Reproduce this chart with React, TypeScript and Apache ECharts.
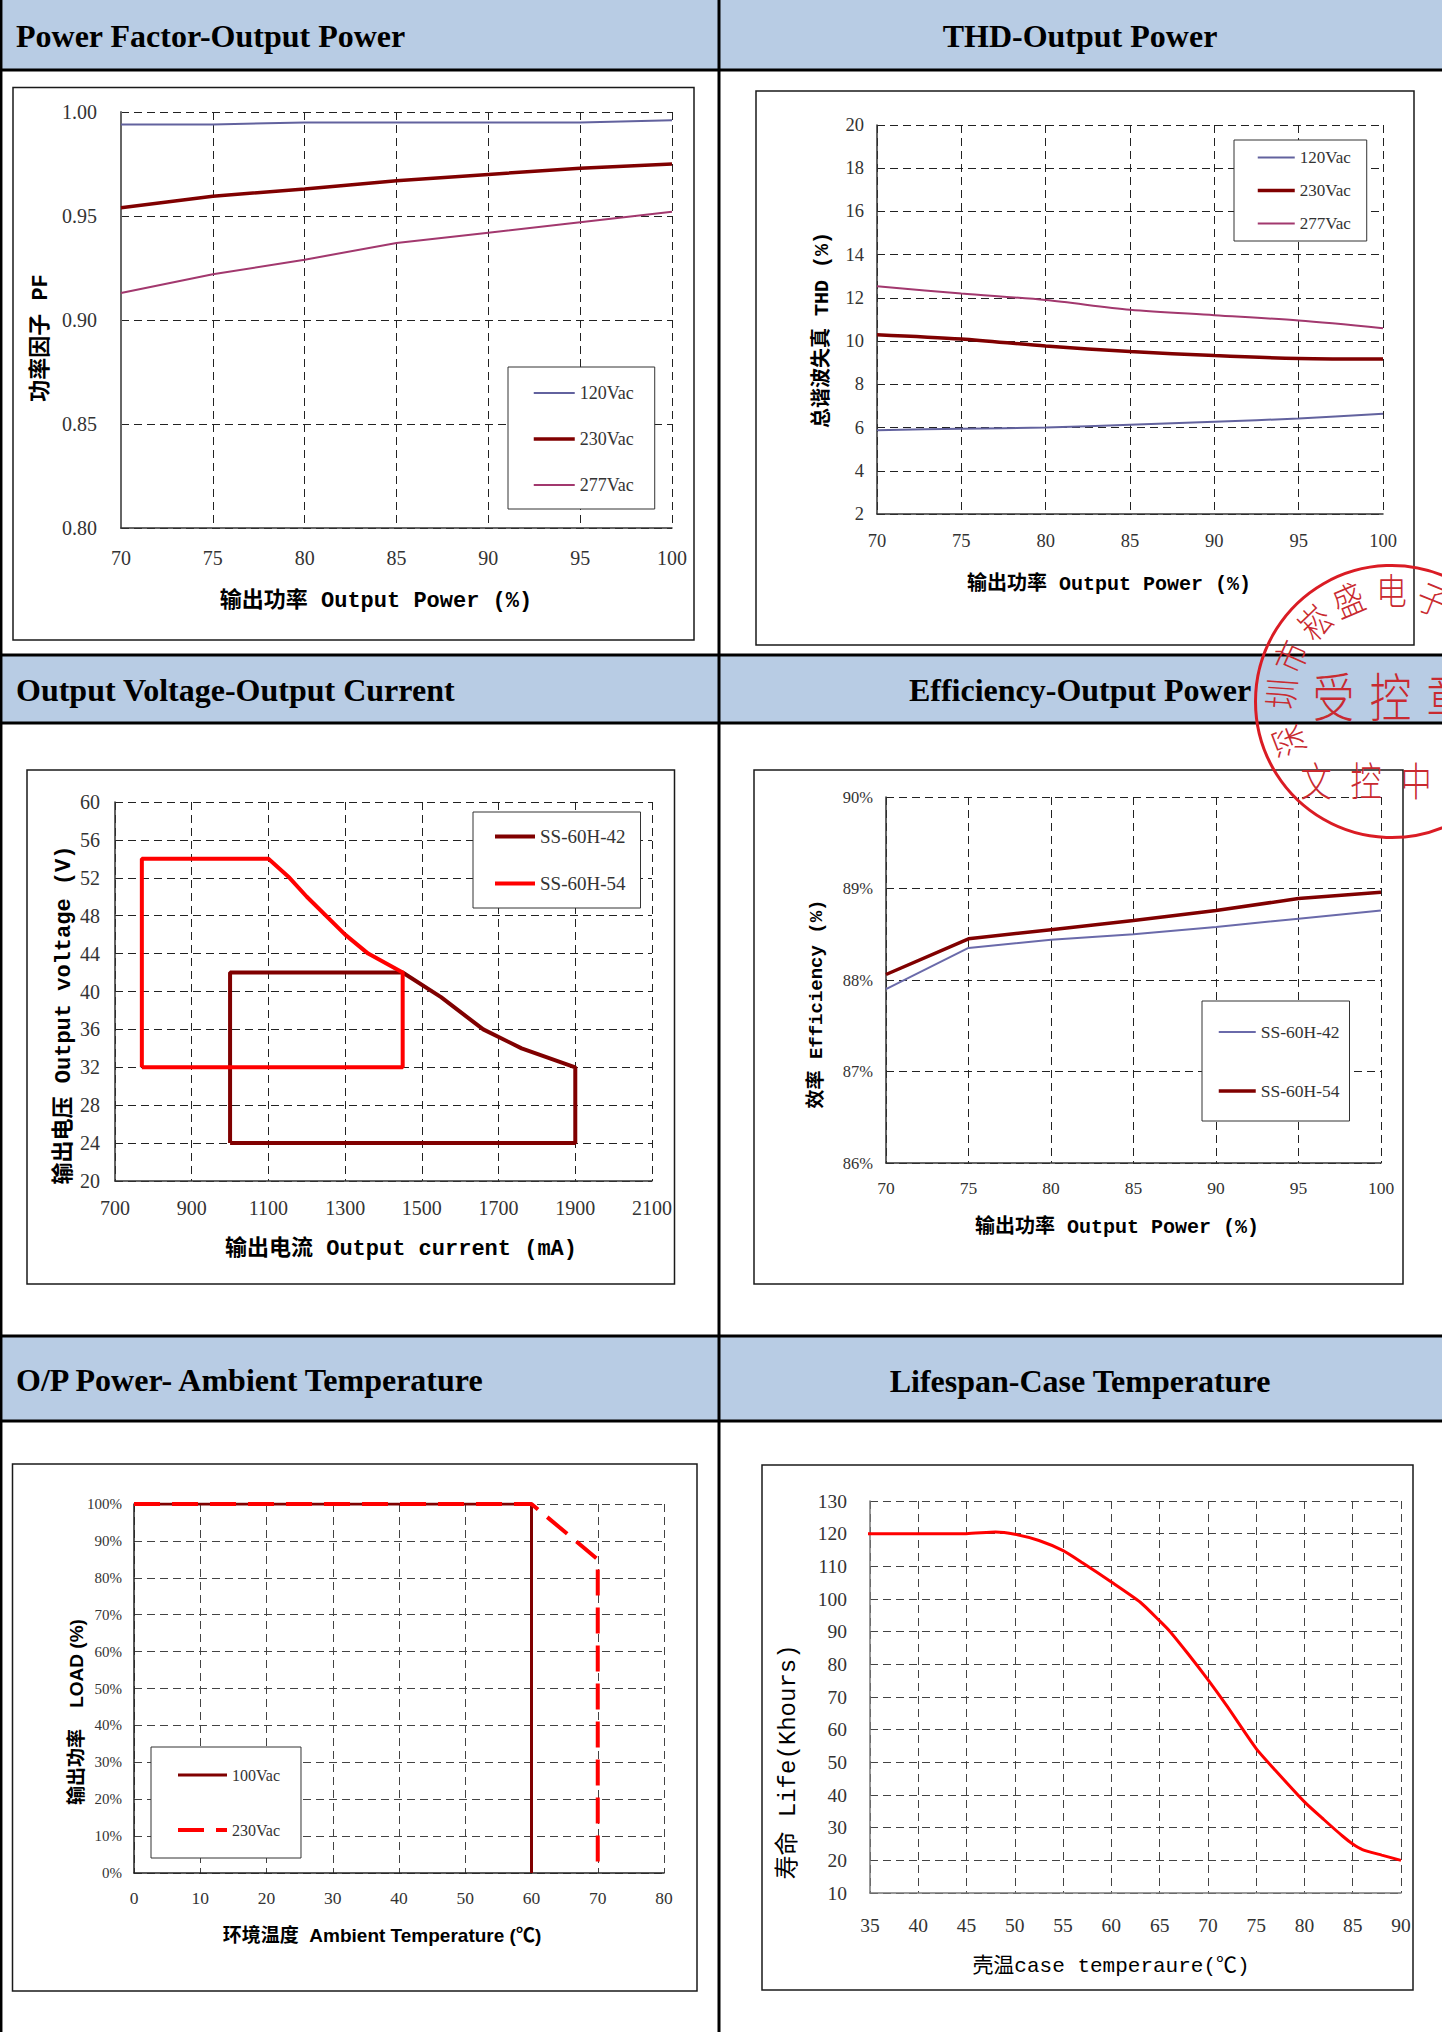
import React, { useEffect, useRef } from "react";
import * as echarts from "echarts";

// ---------- data ----------
const outputPowerPct = [70, 75, 80, 85, 90, 95, 100];

const pf120Vac = [0.994, 0.994, 0.995, 0.995, 0.995, 0.995, 0.996];
const pf230Vac = [0.954, 0.9595, 0.963, 0.967, 0.97, 0.973, 0.975];
const pf277Vac = [0.913, 0.922, 0.929, 0.937, 0.942, 0.947, 0.952];

const thd120Vac = [5.88, 5.95, 6.0, 6.13, 6.27, 6.42, 6.64];
const thd230Vac = [10.3, 10.1, 9.77, 9.52, 9.33, 9.2, 9.17];
const thd277Vac = [12.54, 12.2, 11.9, 11.45, 11.2, 10.95, 10.6];

const vi42CurrentMa = [1000, 1000, 1450, 1550, 1660, 1760, 1900, 1900, 1000];
const vi42Voltage = [24, 42, 42, 39.4, 36, 34, 32, 24, 24];
const vi54CurrentMa = [770, 770, 1100, 1155, 1200, 1300, 1360, 1450, 1450, 770];
const vi54Voltage = [32, 54, 54, 52, 50, 46, 44, 42, 32, 32];

const eff42 = [87.9, 88.35, 88.44, 88.5, 88.58, 88.67, 88.76];
const eff54 = [88.06, 88.45, 88.55, 88.65, 88.76, 88.89, 88.96];

const load100VacTemp = [0, 60, 60];
const load100VacPct = [100, 100, 0];
const load230VacTemp = [0, 60, 70, 70];
const load230VacPct = [100, 100, 85, 0];

const lifeCaseTemp = [34, 40, 45, 48, 50, 52.5, 55, 57, 60, 63, 65, 66, 68, 70, 72, 75, 77, 80, 82, 84, 85, 86, 88, 90];
const lifeKhours = [120, 120, 120, 120.5, 119.8, 117.9, 114.8, 111.1, 105.2, 99, 93.3, 90.3, 83, 75.3, 67.1, 54.2, 47.5, 37.9, 32.5, 27.3, 25, 23.3, 21.6, 20];

const panelTitles = [
  "Power Factor-Output Power",
  "THD-Output Power",
  "Output Voltage-Output Current",
  "Efficiency-Output Power",
  "O/P Power- Ambient Temperature",
  "Lifespan-Case Temperature",
];

// ---------- styling ----------
const SERIF = "'Liberation Serif', 'Times New Roman', serif";
const MONO_CJK = "'Liberation Mono', 'Noto Sans CJK SC', monospace";
const SANS_CJK = "'Liberation Sans', 'Noto Sans CJK SC', sans-serif";
const CJK = "'Noto Sans CJK SC', sans-serif";

const zip = (xs: number[], ys: number[]) => xs.map((x, i) => [x, ys[i]]);

function axis(
  gridIndex: number,
  min: number,
  max: number,
  interval: number,
  o: {
    fontSize: number;
    margin: number;
    formatter?: (v: number) => string;
    lineColor?: string;
    gridColor?: string;
    lineWidth?: number;
  }
) {
  return {
    gridIndex,
    type: "value",
    min,
    max,
    interval,
    axisLine: {
      show: true,
      onZero: false,
      lineStyle: { color: o.lineColor || "#333", width: o.lineWidth || 1.5 },
    },
    axisTick: { show: false },
    axisLabel: {
      margin: o.margin,
      fontFamily: SERIF,
      fontSize: o.fontSize,
      color: "#333",
      formatter: o.formatter || ((v: number) => String(v)),
    },
    splitLine: {
      show: true,
      showMinLine: true,
      showMaxLine: true,
      lineStyle: { type: [8, 5], color: o.gridColor || "#222", width: 1 },
    },
  };
}

function line(
  name: string,
  xi: number,
  data: number[][],
  color: string,
  width: number,
  extra: any = {}
) {
  return {
    type: "line",
    name,
    xAxisIndex: xi,
    yAxisIndex: xi,
    data,
    symbol: "none",
    color,
    itemStyle: { color },
    lineStyle: { color, width, ...(extra.lineStyle || {}) },
    smooth: extra.smooth || false,
    clip: extra.clip === undefined ? true : extra.clip,
    z: extra.z || 2,
  };
}

function legend(
  names: string[],
  left: number,
  top: number,
  padding: number[],
  itemGap: number,
  itemWidth: number,
  fontSize: number
) {
  return {
    data: names,
    orient: "vertical",
    left,
    top,
    padding,
    itemGap,
    itemWidth,
    itemHeight: 12,
    selectedMode: false,
    borderColor: "#333",
    borderWidth: 1,
    backgroundColor: "#fff",
    itemStyle: { color: "rgba(0,0,0,0)", borderColor: "rgba(0,0,0,0)", borderWidth: 0 },
    lineStyle: { width: "inherit" },
    formatter: (n: string) => n.split("|")[1],
    textStyle: { fontFamily: SERIF, fontSize, color: "#333", lineHeight: fontSize },
  };
}

function text(x: number, y: number, t: string, style: any, extra: any = {}) {
  return {
    type: "text",
    x,
    y,
    style: { text: t, align: "center", verticalAlign: "middle", fill: "#000", ...style },
    ...extra,
  };
}

function buildOption() {
  const grids = [
    { left: 121, top: 112, width: 551, height: 416 },
    { left: 877, top: 125, width: 506, height: 389 },
    { left: 115, top: 802, width: 537, height: 379 },
    { left: 886, top: 797, width: 495, height: 366 },
    { left: 134, top: 1504, width: 530, height: 369 },
    { left: 870, top: 1501, width: 531, height: 392 },
  ].map((g) => ({ ...g, containLabel: false, outerBoundsMode: "none" }));

  const pct = (v: number) => `${v}%`;

  const xAxis = [
    axis(0, 70, 100, 5, { fontSize: 20, margin: 20 }),
    axis(1, 70, 100, 5, { fontSize: 18.5, margin: 17 }),
    axis(2, 700, 2100, 200, { fontSize: 20, margin: 17 }),
    axis(3, 70, 100, 5, { fontSize: 17.5, margin: 16 }),
    axis(4, 0, 80, 10, { fontSize: 17.5, margin: 16, gridColor: "#444", lineColor: "#222" }),
    axis(5, 35, 90, 5, { fontSize: 19.5, margin: 22, gridColor: "#444", lineColor: "#777" }),
  ];
  const yAxis = [
    axis(0, 0.8, 1.0, 0.05, { fontSize: 20, margin: 24, formatter: (v) => v.toFixed(2), lineColor: "#666", lineWidth: 2 }),
    axis(1, 2, 20, 2, { fontSize: 18.5, margin: 13 }),
    axis(2, 20, 60, 4, { fontSize: 20, margin: 15 }),
    axis(3, 86, 90, 1, { fontSize: 16.5, margin: 13, formatter: pct }),
    axis(4, 0, 100, 10, { fontSize: 15, margin: 12, formatter: pct, gridColor: "#444", lineColor: "#222" }),
    axis(5, 10, 130, 10, { fontSize: 19.5, margin: 23, gridColor: "#444", lineColor: "#777" }),
  ];

  const series = [
    line("pf|120Vac", 0, zip(outputPowerPct, pf120Vac), "#62629E", 2),
    line("pf|230Vac", 0, zip(outputPowerPct, pf230Vac), "#800000", 3.5),
    line("pf|277Vac", 0, zip(outputPowerPct, pf277Vac), "#A2386E", 2),

    line("thd|120Vac", 1, zip(outputPowerPct, thd120Vac), "#62629E", 2, { smooth: 0.3 }),
    line("thd|230Vac", 1, zip(outputPowerPct, thd230Vac), "#800000", 3.5, { smooth: 0.3 }),
    line("thd|277Vac", 1, zip(outputPowerPct, thd277Vac), "#A2386E", 2, { smooth: 0.3 }),

    line("vi|SS-60H-42", 2, zip(vi42CurrentMa, vi42Voltage), "#800000", 4),
    line("vi|SS-60H-54", 2, zip(vi54CurrentMa, vi54Voltage), "#FF0000", 4, { z: 3 }),

    line("eff|SS-60H-42", 3, zip(outputPowerPct, eff42), "#6A6AAA", 2),
    line("eff|SS-60H-54", 3, zip(outputPowerPct, eff54), "#800000", 3.5),

    line("load|100Vac", 4, zip(load100VacTemp, load100VacPct), "#800000", 3),
    line("load|230Vac", 4, zip(load230VacTemp, load230VacPct), "#FF0000", 4, {
      lineStyle: { type: [26, 12] },
      z: 3,
    }),

    line("life|Life", 5, zip(lifeCaseTemp, lifeKhours), "#FF0000", 3, { clip: false, smooth: 0.2 }),
  ];

  const legends = [
    legend(["pf|120Vac", "pf|230Vac", "pf|277Vac"], 508, 367, [17, 21, 15, 24], 28, 41, 18),
    legend(["thd|120Vac", "thd|230Vac", "thd|277Vac"], 1234, 140, [9, 16, 9, 22], 16, 37, 17),
    legend(["vi|SS-60H-42", "vi|SS-60H-54"], 473, 812, [15, 15, 15, 20], 28, 40, 19),
    legend(["eff|SS-60H-42", "eff|SS-60H-54"], 1202, 1001, [22, 10, 21, 15], 41, 37, 17.5),
    legend(["load|100Vac", "load|230Vac"], 151, 1747, [20, 21, 20, 25], 39, 49, 16),
  ];

  // ---------- page structure (table) ----------
  const band = (y: number, h: number) => ({
    type: "rect",
    shape: { x: 0, y, width: 1442, height: h },
    style: { fill: "#B8CCE4" },
    z: -20,
  });
  const hline = (y: number) => ({
    type: "line",
    shape: { x1: 0, y1: y, x2: 1442, y2: y },
    style: { stroke: "#000", lineWidth: 3 },
    z: -5,
  });
  const vline = (x: number, w: number) => ({
    type: "line",
    shape: { x1: x, y1: 0, x2: x, y2: 2032 },
    style: { stroke: "#000", lineWidth: w },
    z: -5,
  });
  const box = (x: number, y: number, w: number, h: number) => ({
    type: "rect",
    shape: { x, y, width: w, height: h },
    style: { fill: "#fff", stroke: "#1a1a1a", lineWidth: 1.5 },
    z: -15,
  });

  const headerStyle = { fontFamily: SERIF, fontWeight: "bold", fontSize: 32, fill: "#000" };
  const titleBold = (size: number) => ({ fontFamily: MONO_CJK, fontWeight: "bold", fontSize: size, fill: "#000" });
  const R = Math.PI / 2;

  // ---------- stamp ----------
  const stampCx = 1391.5;
  const stampCy = 701.5;
  const stampColor = "#C92A30";
  const arcChars = ["深", "圳", "市", "崧", "盛", "电", "子"];
  const arcAngles = [159, 184, 204, 226, 247, 270, 292];
  const stampArc = arcChars.map((c, i) => {
    const a = (arcAngles[i] * Math.PI) / 180;
    return text(
      stampCx + 112 * Math.cos(a),
      stampCy + 112 * Math.sin(a),
      c,
      { fontFamily: CJK, fontSize: 36, fontWeight: 300, fill: stampColor },
      { rotation: ((270 - arcAngles[i]) * Math.PI) / 180, scaleX: 0.85, z: 100 }
    );
  });
  const stampMid = ["受", "控", "章"].map((c, i) =>
    text(1333.5 + i * 57, 694, c, { fontFamily: CJK, fontSize: 52, fontWeight: 300, fill: stampColor }, { scaleX: 0.8, z: 100 })
  );
  const stampLow = ["文", "控", "中"].map((c, i) =>
    text(1316 + i * 50, 778, c, { fontFamily: CJK, fontSize: 40, fontWeight: 300, fill: stampColor }, { scaleX: 0.78, z: 100 })
  );

  const graphic = {
    elements: [
      band(0, 70),
      band(656, 67),
      band(1337, 84),
      hline(70),
      hline(655),
      hline(723),
      hline(1336),
      hline(1421),
      vline(1.2, 2.5),
      vline(719, 3),
      box(13, 87.5, 681, 552.5),
      box(756, 91, 658, 554),
      box(27, 770, 647.5, 514),
      box(754, 770, 649, 514),
      box(12.5, 1464, 684.5, 527),
      box(762, 1465, 651, 525),

      text(16, 36, panelTitles[0], { ...headerStyle, align: "left" }),
      text(1080, 36, panelTitles[1], headerStyle),
      text(16, 690, panelTitles[2], { ...headerStyle, align: "left" }),
      text(1080, 690, panelTitles[3], headerStyle),
      text(16, 1380, panelTitles[4], { ...headerStyle, align: "left" }),
      text(1080, 1381, panelTitles[5], headerStyle),

      // axis titles
      text(376, 601, "输出功率 Output Power (%)", titleBold(22)),
      text(41, 338, "功率因子 PF", titleBold(22), { rotation: R }),
      text(1109, 584, "输出功率 Output Power (%)", titleBold(20)),
      text(822, 330, "总谐波失真 THD (%)", titleBold(20), { rotation: R }),
      text(401, 1249, "输出电流 Output current (mA)", titleBold(22)),
      text(64, 1015, "输出电压 Output voltage (V)", titleBold(22), { rotation: R }),
      text(1117, 1227, "输出功率 Output Power (%)", titleBold(20)),
      text(817, 1004, "效率 Efficiency (%)", titleBold(19), { rotation: R }),
      text(382, 1935, "环境温度  Ambient Temperature (℃)", {
        fontFamily: SANS_CJK,
        fontWeight: "bold",
        fontSize: 19,
        fill: "#000",
      }),
      text(76, 1712, "输出功率    LOAD (%)", { fontFamily: SANS_CJK, fontWeight: "bold", fontSize: 19, fill: "#000" }, { rotation: R }),
      text(1111, 1966, "壳温case temperaure(℃)", { fontFamily: MONO_CJK, fontSize: 21, fill: "#000" }),
      text(788, 1762, "寿命 Life(Khours)", { fontFamily: MONO_CJK, fontSize: 24, fill: "#000" }, { rotation: R }),

      // stamp
      {
        type: "circle",
        shape: { cx: stampCx, cy: stampCy, r: 136 },
        style: { fill: "none", stroke: "#DA1C24", lineWidth: 3 },
        z: 100,
      },
      ...stampArc,
      ...stampMid,
      ...stampLow,
    ],
  };

  return {
    animation: false,
    backgroundColor: "#fff",
    textStyle: { fontFamily: SERIF },
    grid: grids,
    xAxis,
    yAxis,
    legend: legends,
    series,
    graphic,
  };
}

export default function App() {
  const ref = useRef<HTMLDivElement>(null);
  useEffect(() => {
    document.body.style.margin = "0";
    const chart = echarts.init(ref.current!, null, { renderer: "svg", width: 1442, height: 2032 });
    chart.setOption(buildOption() as any);
    return () => chart.dispose();
  }, []);
  return <div ref={ref} style={{ width: 1442, height: 2032, overflow: "hidden" }} />;
}
